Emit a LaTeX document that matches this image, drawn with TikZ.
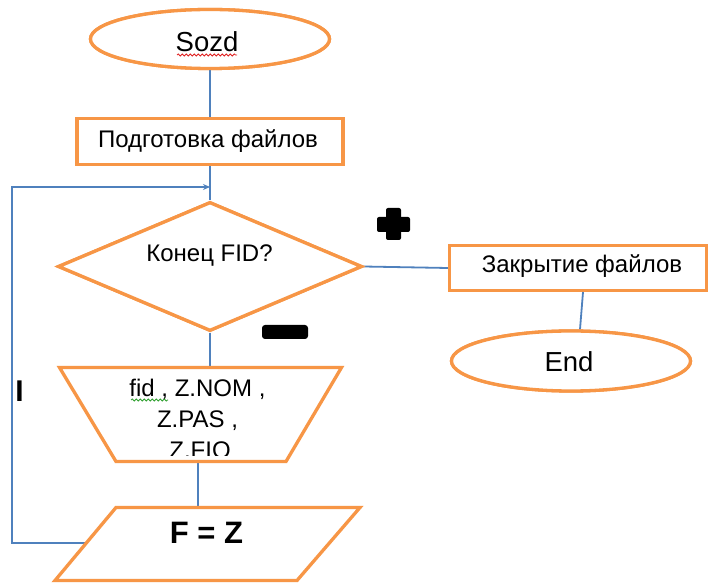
\documentclass[tikz,border=0pt]{standalone}
\usepackage{fontspec}
\setmainfont{Liberation Sans}
\usetikzlibrary{shapes.geometric,arrows.meta,decorations.pathmorphing,calc}
\definecolor{boxorange}{HTML}{F79646}
\definecolor{linkblue}{HTML}{4F81BD}
\definecolor{spellred}{HTML}{E02020}
\definecolor{spellgreen}{HTML}{30A030}
\begin{document}
\begin{tikzpicture}[x=1pt,y=-1pt,
  flowshape/.style={draw=boxorange,line width=3.3pt,inner sep=0pt,fill=white},
  terminal/.style={flowshape,ellipse},
  process/.style={flowshape,rectangle},
  decision/.style={flowshape,diamond},
  framebox/.style={inner sep=0pt,outer sep=0pt},
  link/.style={draw=linkblue,line width=1.8pt},
  txt/.style={anchor=base,inner sep=0pt,font=\fontsize{24}{28}\selectfont},
  bigtxt/.style={txt,font=\fontsize{27.5}{32}\selectfont},
  squiggle/.style={line width=0.8pt,decorate,decoration={snake,amplitude=1pt,segment length=4pt}},
]
\useasboundingbox (0,0) rectangle (710,585);
\fill[white] (0,0) rectangle (710,585);

% shapes
\node[terminal,minimum width=239pt,minimum height=59pt] (sozd) at (210,39) {};
\node[process,minimum width=266pt,minimum height=46pt] (prep) at (210,141.5) {};
\node[decision,minimum width=304pt,minimum height=129pt] (fid) at (210,266.5) {};
\node[process,minimum width=257pt,minimum height=45pt] (close) at (578,268) {};
\node[terminal,minimum width=239pt,minimum height=60pt] (end) at (571,361) {};
\node[framebox,minimum width=282pt,minimum height=94pt] (inp) at (200.5,414.5) {};
\node[framebox,minimum width=305pt,minimum height=73pt] (par) at (207.5,544) {};

\coordinate (loopstart) at ($([xshift=61pt]par.north west)!0.486!(par.south west)$);
\coordinate (entry) at (210,187);

% connectors
\draw[link] (sozd) -- (prep);
\draw[link] (prep) -- (fid);
\draw[link] (fid.south) -- (fid.south |- inp.north);
\draw[link] ([xshift=-2.5pt]inp.south) -- ([xshift=-2.5pt]inp.south |- par.north);
\draw[link] (fid.east) -- (close.west);
\draw[link] ([xshift=5pt]close.south) -- ([xshift=9pt]end.north);
\draw[link,-{Stealth[length=7pt,width=6pt]}] (loopstart) -- ++(-74.3,0) |- (entry);

% box outlines above the connector ends
\node[terminal,minimum width=239pt,minimum height=59pt] at (sozd) {};
\node[process,minimum width=266pt,minimum height=46pt] at (prep) {};
\node[decision,minimum width=304pt,minimum height=129pt] at (fid) {};
\node[process,minimum width=257pt,minimum height=45pt] at (close) {};
\node[terminal,minimum width=239pt,minimum height=60pt] at (end) {};
\draw[flowshape] (inp.north west) -- (inp.north east) -- ([xshift=-55.5pt]inp.south east)
  -- ([xshift=56.5pt]inp.south west) -- cycle;
\draw[flowshape] ([xshift=61pt]par.north west) -- (par.north east) -- ([xshift=-63pt]par.south east)
  -- (par.south west) -- cycle;

% branch signs
\fill[rounded corners=2pt] (377,217) rectangle (410,232);
\fill[rounded corners=2pt] (386,208) rectangle (401,240);
\fill[rounded corners=3pt] (262,325) rectangle (308,339);

% texts
\node[bigtxt] (sozdtxt) at (207,52) {Sozd};
\node[txt] (preptxt) at (208,148) {Подготовка файлов};
\node[txt] (fidtxt) at (209.5,262) {Конец FID?};
\node[txt] (closetxt) at (582,273) {Закрытие файлов};
\node[bigtxt] (endtxt) at (569,372) {End};
\node[txt] (inl1) at (197.5,397) {fid , Z.NOM ,};
\node[txt] (inl2) at (197.5,428) {Z.PAS ,};
\begin{scope}
  \clip (100,432) rectangle (300,455);
  \node[txt] (inl3) at (200,458) {Z.FIO};
\end{scope}
\node[txt,font=\bfseries\fontsize{31}{36}\selectfont] (assign) at (206.5,543) {F = Z};
\node[txt,font=\bfseries\fontsize{30}{34}\selectfont] (looptag) at (19.5,402) {I};

% spelling marks under words
\draw[squiggle,draw=spellred] (177,55) -- (237,55);
\draw[squiggle,draw=spellgreen] (131,400) -- (168,400);
\end{tikzpicture}
\end{document}
